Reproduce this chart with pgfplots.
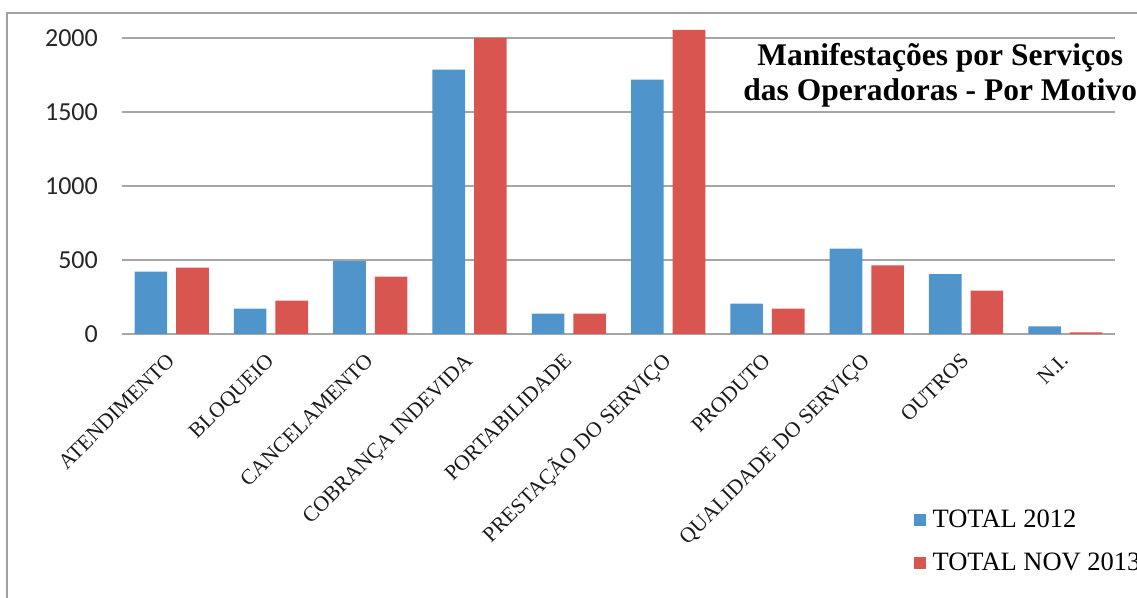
\documentclass[border=0pt]{standalone}
\usepackage{fontspec}
\setmainfont{Liberation Serif}
\newfontfamily\carlito{Carlito}
\usepackage{pgfplots}
\pgfplotsset{compat=1.18}
\definecolor{cblue}{HTML}{4F95CB}
\definecolor{cred}{HTML}{D95650}
\definecolor{gridgray}{HTML}{A6A6A6}
\definecolor{framegray}{HTML}{A0A0A0}

\begin{document}
\begin{tikzpicture}[x=1bp,y=1bp]
\path[use as bounding box] (0,0) rectangle (1137,598);
\draw[framegray, line width=2bp] (7,-5) -- (7,585) -- (1150,585);
\begin{axis}[
  at={(122bp,264bp)}, anchor=south west,
  scale only axis, width=993bp, height=310.8bp,
  xmin=-0.5, xmax=9.5, ymin=0, ymax=2100,
  xtick={0,...,9},
  xticklabels={ATENDIMENTO,BLOQUEIO,CANCELAMENTO,COBRANÇA INDEVIDA,PORTABILIDADE,PRESTAÇÃO DO SERVIÇO,PRODUTO,QUALIDADE DO SERVIÇO,OUTROS,N.I.},
  ytick={0,500,1000,1500,2000},
  ymajorgrids,
  major grid style={gridgray, line width=1.3bp},
  axis line style={draw=none},
  tick style={draw=none},
  /pgf/number format/1000 sep={},
  /pgf/number format/assume math mode=true,
  yticklabel style={font=\carlito\fontsize{26bp}{30bp}\selectfont, text=black!85, anchor=east, inner sep=0pt, xshift=-24bp},
  xticklabel style={font=\fontsize{21.5bp}{25bp}\selectfont, text=black!90, inner sep=0pt, xshift=4bp, yshift=-28bp, rotate=45, anchor=base east},
  legend style={at={(0.797,-0.56)}, anchor=north west, draw=none, fill=none,
    font=\fontsize{26.5bp}{29bp}\selectfont, row sep=20bp, inner sep=0pt,
    cells={anchor=west}},
  clip=false,
]
\addplot[ybar, fill=cblue, draw=none, bar width=32.6bp, bar shift=-20.8bp,
  legend image code/.code={\fill[cblue] (0bp,-6bp) rectangle (12bp,6bp); \path (0bp,0bp) -- (17bp,0bp);}]
  coordinates {(0,422) (1,172) (2,493) (3,1786) (4,138) (5,1719) (6,205) (7,577) (8,405) (9,52)};
\addlegendentry{TOTAL 2012}
\addplot[ybar, fill=cred, draw=none, bar width=32.6bp, bar shift=20.8bp,
  legend image code/.code={\fill[cred] (0bp,-6bp) rectangle (12bp,6bp); \path (0bp,0bp) -- (17bp,0bp);}]
  coordinates {(0,449) (1,226) (2,388) (3,2000) (4,138) (5,2054) (6,172) (7,464) (8,293) (9,11)};
\addlegendentry{TOTAL NOV 2013}
\node[font=\bfseries\fontsize{31.5bp}{35bp}\selectfont, align=center, text=black]
  at (axis description cs:0.824,0.833) {Manifestações por Serviços\\das Operadoras - Por Motivo};
\end{axis}
\end{tikzpicture}
\end{document}
